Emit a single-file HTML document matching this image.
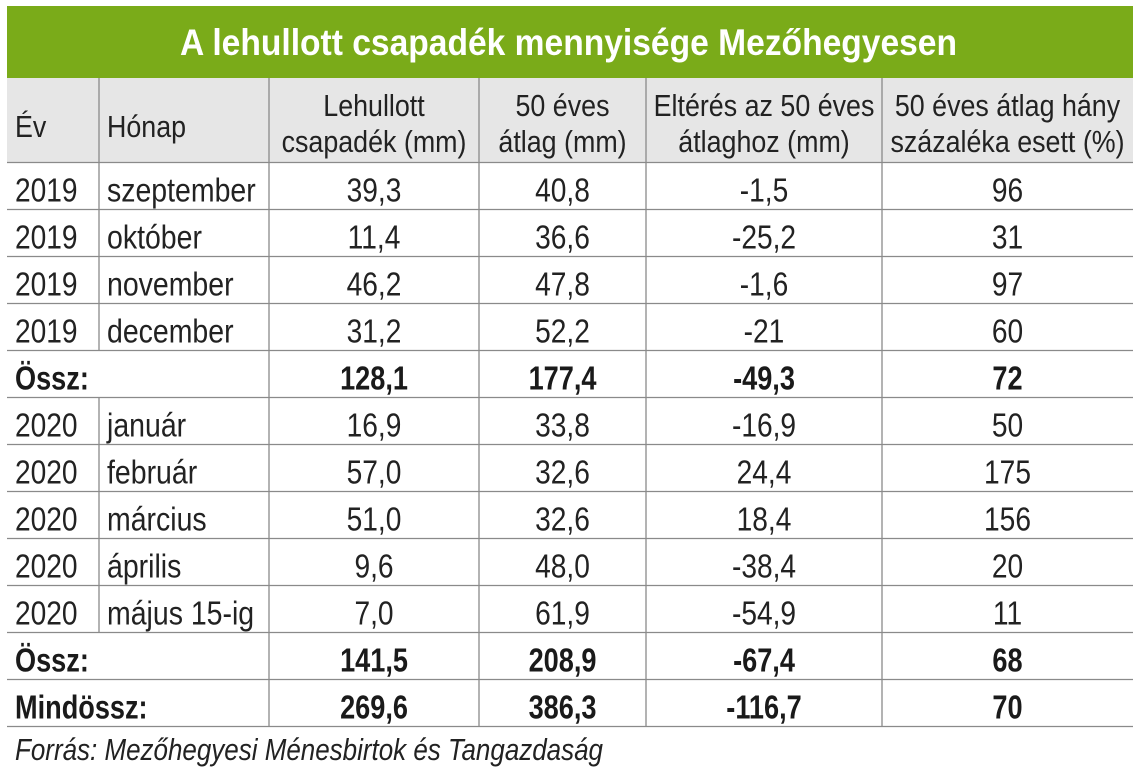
<!DOCTYPE html>
<html><head><meta charset="utf-8"><style>
html,body{margin:0;padding:0;background:#fff;}
svg{display:block;}
text{font-family:"Liberation Sans",sans-serif;fill:#222;}
.h{font-size:30.5px;}
.b{font-size:33.5px;}
.bb{font-size:33.5px;font-weight:bold;fill:#1a1a1a;}
</style></head><body>
<svg width="1142" height="776" viewBox="0 0 1142 776" xmlns="http://www.w3.org/2000/svg">
<rect x="0" y="0" width="1142" height="776" fill="#fff"/>
<rect x="7" y="6" width="1126" height="72" fill="#7aab19"/>
<text x="180" y="55" textLength="777" lengthAdjust="spacingAndGlyphs" style="font-size:37px;font-weight:bold;fill:#fff">A lehullott csapadék mennyisége Mezőhegyesen</text>
<rect x="7" y="78" width="1126" height="85" fill="#e6e6e6"/>
<g stroke="#8a8a8a" stroke-width="1.3">
<line x1="7" y1="162.5" x2="1133" y2="162.5"/>
<line x1="7" y1="209.5" x2="1133" y2="209.5"/>
<line x1="7" y1="256.5" x2="1133" y2="256.5"/>
<line x1="7" y1="303.5" x2="1133" y2="303.5"/>
<line x1="7" y1="350.5" x2="1133" y2="350.5"/>
<line x1="7" y1="397.5" x2="1133" y2="397.5"/>
<line x1="7" y1="444.5" x2="1133" y2="444.5"/>
<line x1="7" y1="491.5" x2="1133" y2="491.5"/>
<line x1="7" y1="538.5" x2="1133" y2="538.5"/>
<line x1="7" y1="585.5" x2="1133" y2="585.5"/>
<line x1="7" y1="632.5" x2="1133" y2="632.5"/>
<line x1="7" y1="679.5" x2="1133" y2="679.5"/>
<line x1="7" y1="726.5" x2="1133" y2="726.5"/>
<line x1="99" y1="78" x2="99" y2="350.5"/>
<line x1="99" y1="397.5" x2="99" y2="632.5"/>
<line x1="269" y1="78" x2="269" y2="726.5"/>
<line x1="479" y1="78" x2="479" y2="726.5"/>
<line x1="646" y1="78" x2="646" y2="726.5"/>
<line x1="882" y1="78" x2="882" y2="726.5"/>
</g>
<!-- header -->
<text class="h" transform="translate(15,137) scale(0.88,1)">Év</text>
<text class="h" transform="translate(107,137) scale(0.88,1)">Hónap</text>
<g text-anchor="middle">
<text class="h" transform="translate(374,116) scale(0.88,1)">Lehullott</text>
<text class="h" transform="translate(374,152) scale(0.88,1)">csapadék (mm)</text>
<text class="h" transform="translate(562.5,116) scale(0.88,1)">50 éves</text>
<text class="h" transform="translate(562.5,152) scale(0.88,1)">átlag (mm)</text>
<text class="h" transform="translate(764,116) scale(0.88,1)">Eltérés az 50 éves</text>
<text class="h" transform="translate(764,152) scale(0.88,1)">átlaghoz (mm)</text>
<text class="h" transform="translate(1007.5,116) scale(0.88,1)">50 éves átlag hány</text>
<text class="h" transform="translate(1007.5,152) scale(0.88,1)">százaléka esett (%)</text>
</g>
<!-- rows -->
<g>
<text class="b" transform="translate(15,201.5) scale(0.84,1)">2019</text>
<text class="b" transform="translate(107,201.5) scale(0.85,1)">szeptember</text>
<text class="b" transform="translate(15,248.5) scale(0.84,1)">2019</text>
<text class="b" transform="translate(107,248.5) scale(0.85,1)">október</text>
<text class="b" transform="translate(15,295.5) scale(0.84,1)">2019</text>
<text class="b" transform="translate(107,295.5) scale(0.85,1)">november</text>
<text class="b" transform="translate(15,342.5) scale(0.84,1)">2019</text>
<text class="b" transform="translate(107,342.5) scale(0.85,1)">december</text>
<text class="bb" transform="translate(15,389.5) scale(0.81,1)">Össz:</text>
<text class="b" transform="translate(15,436.5) scale(0.84,1)">2020</text>
<text class="b" transform="translate(107,436.5) scale(0.85,1)">január</text>
<text class="b" transform="translate(15,483.5) scale(0.84,1)">2020</text>
<text class="b" transform="translate(107,483.5) scale(0.85,1)">február</text>
<text class="b" transform="translate(15,530.5) scale(0.84,1)">2020</text>
<text class="b" transform="translate(107,530.5) scale(0.85,1)">március</text>
<text class="b" transform="translate(15,577.5) scale(0.84,1)">2020</text>
<text class="b" transform="translate(107,577.5) scale(0.85,1)">április</text>
<text class="b" transform="translate(15,624.5) scale(0.84,1)">2020</text>
<text class="b" transform="translate(107,624.5) scale(0.85,1)">május 15-ig</text>
<text class="bb" transform="translate(15,671.5) scale(0.81,1)">Össz:</text>
<text class="bb" transform="translate(15,718.5) scale(0.81,1)">Mindössz:</text>
</g>
<g text-anchor="middle">
<text class="b" transform="translate(374,201.5) scale(0.84,1)">39,3</text>
<text class="b" transform="translate(562.5,201.5) scale(0.84,1)">40,8</text>
<text class="b" transform="translate(764,201.5) scale(0.84,1)">-1,5</text>
<text class="b" transform="translate(1007.5,201.5) scale(0.84,1)">96</text>

<text class="b" transform="translate(374,248.5) scale(0.84,1)">11,4</text>
<text class="b" transform="translate(562.5,248.5) scale(0.84,1)">36,6</text>
<text class="b" transform="translate(764,248.5) scale(0.84,1)">-25,2</text>
<text class="b" transform="translate(1007.5,248.5) scale(0.84,1)">31</text>

<text class="b" transform="translate(374,295.5) scale(0.84,1)">46,2</text>
<text class="b" transform="translate(562.5,295.5) scale(0.84,1)">47,8</text>
<text class="b" transform="translate(764,295.5) scale(0.84,1)">-1,6</text>
<text class="b" transform="translate(1007.5,295.5) scale(0.84,1)">97</text>

<text class="b" transform="translate(374,342.5) scale(0.84,1)">31,2</text>
<text class="b" transform="translate(562.5,342.5) scale(0.84,1)">52,2</text>
<text class="b" transform="translate(764,342.5) scale(0.84,1)">-21</text>
<text class="b" transform="translate(1007.5,342.5) scale(0.84,1)">60</text>

<text class="bb" transform="translate(374,389.5) scale(0.81,1)">128,1</text>
<text class="bb" transform="translate(562.5,389.5) scale(0.81,1)">177,4</text>
<text class="bb" transform="translate(764,389.5) scale(0.81,1)">-49,3</text>
<text class="bb" transform="translate(1007.5,389.5) scale(0.81,1)">72</text>

<text class="b" transform="translate(374,436.5) scale(0.84,1)">16,9</text>
<text class="b" transform="translate(562.5,436.5) scale(0.84,1)">33,8</text>
<text class="b" transform="translate(764,436.5) scale(0.84,1)">-16,9</text>
<text class="b" transform="translate(1007.5,436.5) scale(0.84,1)">50</text>

<text class="b" transform="translate(374,483.5) scale(0.84,1)">57,0</text>
<text class="b" transform="translate(562.5,483.5) scale(0.84,1)">32,6</text>
<text class="b" transform="translate(764,483.5) scale(0.84,1)">24,4</text>
<text class="b" transform="translate(1007.5,483.5) scale(0.84,1)">175</text>

<text class="b" transform="translate(374,530.5) scale(0.84,1)">51,0</text>
<text class="b" transform="translate(562.5,530.5) scale(0.84,1)">32,6</text>
<text class="b" transform="translate(764,530.5) scale(0.84,1)">18,4</text>
<text class="b" transform="translate(1007.5,530.5) scale(0.84,1)">156</text>

<text class="b" transform="translate(374,577.5) scale(0.84,1)">9,6</text>
<text class="b" transform="translate(562.5,577.5) scale(0.84,1)">48,0</text>
<text class="b" transform="translate(764,577.5) scale(0.84,1)">-38,4</text>
<text class="b" transform="translate(1007.5,577.5) scale(0.84,1)">20</text>

<text class="b" transform="translate(374,624.5) scale(0.84,1)">7,0</text>
<text class="b" transform="translate(562.5,624.5) scale(0.84,1)">61,9</text>
<text class="b" transform="translate(764,624.5) scale(0.84,1)">-54,9</text>
<text class="b" transform="translate(1007.5,624.5) scale(0.84,1)">11</text>

<text class="bb" transform="translate(374,671.5) scale(0.81,1)">141,5</text>
<text class="bb" transform="translate(562.5,671.5) scale(0.81,1)">208,9</text>
<text class="bb" transform="translate(764,671.5) scale(0.81,1)">-67,4</text>
<text class="bb" transform="translate(1007.5,671.5) scale(0.81,1)">68</text>

<text class="bb" transform="translate(374,718.5) scale(0.81,1)">269,6</text>
<text class="bb" transform="translate(562.5,718.5) scale(0.81,1)">386,3</text>
<text class="bb" transform="translate(764,718.5) scale(0.81,1)">-116,7</text>
<text class="bb" transform="translate(1007.5,718.5) scale(0.81,1)">70</text>
</g>
<text x="15" y="760" textLength="588" lengthAdjust="spacingAndGlyphs" style="font-size:31px;font-style:italic;fill:#222">Forrás: Mezőhegyesi Ménesbirtok és Tangazdaság</text>
</svg>
</body></html>
